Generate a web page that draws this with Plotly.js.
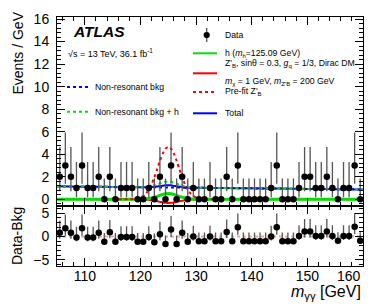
<!DOCTYPE html>
<html><head><meta charset="utf-8">
<script src="https://cdn.plot.ly/plotly-3.0.1.min.js"></script>
<style>html,body{margin:0;padding:0;background:#fff}#c{width:374px;height:307px}</style>
</head><body><div id="c"></div>
<script>
// ---- data: 1 GeV bins of m_gammagamma ----
const mgg = [105.5,106.5,107.5,108.5,109.5,110.5,111.5,112.5,113.5,114.5,
             115.5,116.5,117.5,118.5,119.5,120.5,121.5,122.5,123.5,124.5,
             125.5,126.5,127.5,128.5,129.5,130.5,131.5,132.5,133.5,134.5,
             135.5,136.5,137.5,138.5,139.5,140.5,141.5,142.5,143.5,144.5,
             145.5,146.5,147.5,148.5,149.5,150.5,151.5,152.5,153.5,154.5,
             155.5,156.5,157.5,158.5,159.5];
const counts = [2,3,2,1,3,1,1,2,0,2,
                0,1,1,1,0,0,1,0,2,0,
                3,0,2,0,1,0,0,1,0,0,
                2,0,3,0,0,0,0,0,1,3,
                0,0,0,1,2,2,1,1,2,1,
                0,1,1,3,0];
const resid = [0.8,1.8,0.8,-0.2,1.8,-0.2,-0.2,0.8,-1.1,0.9,
               -1.1,-0.1,-0.1,-0.1,-1.1,-1.1,-0.1,-1.2,0.5,-1.6,
               1.5,-1.6,0.8,-1.1,0.0,-1.0,-1.0,0.0,-1.0,-1.0,
               1.0,-1.0,2.0,-1.0,-1.0,-1.0,-1.0,-1.0,0.0,2.0,
               -1.0,-1.0,-1.0,0.1,1.1,1.1,0.1,0.1,1.1,0.1,
               -0.9,0.1,0.1,2.1,-0.9];
// Poisson (Garwood) interval half-widths indexed by count
const errUpByN   = [1.84, 2.30, 2.64, 2.92];
const errDownByN = [0.00, 0.83, 1.29, 1.63];

// ---- x tick labels ----
const xTickVals = [110,120,130,140,150,160];
const xTickText = ['110','120','130','140','150',''];
const lastTickLabel = '160';

// ---- fitted curves, sampled ----
const cx     = [105,110,115,118,119,120,121,122,122.5,123,123.5,124,124.5,125,125.5,126,126.5,127,127.5,128,129,130,131,132,135,140,145,150,155,160];
const bkg    = [1.15,1.12,1.10,1.08,1.08,1.07,1.07,1.06,1.06,1.06,1.06,1.05,1.05,1.05,1.05,1.04,1.04,1.04,1.04,1.03,1.03,1.02,1.02,1.01,1.00,0.97,0.95,0.92,0.90,0.87];
const bkgH   = [1.15,1.12,1.10,1.08,1.08,1.08,1.10,1.17,1.24,1.32,1.41,1.48,1.55,1.57,1.55,1.47,1.39,1.30,1.22,1.14,1.06,1.03,1.02,1.01,1.00,0.97,0.95,0.92,0.90,0.87];
const higgs  = [0,0,0,0,0,0.01,0.03,0.11,0.18,0.26,0.35,0.43,0.50,0.52,0.50,0.43,0.35,0.26,0.18,0.11,0.03,0.01,0,0,0,0,0,0,0,0];
const zfit   = [0,0,0,0,0,-0.01,-0.03,-0.09,-0.13,-0.18,-0.23,-0.28,-0.31,-0.32,-0.31,-0.28,-0.23,-0.18,-0.13,-0.09,-0.03,-0.01,0,0,0,0,0,0,0,0];
const total  = [1.15,1.12,1.10,1.08,1.08,1.07,1.07,1.08,1.11,1.14,1.18,1.20,1.24,1.25,1.24,1.19,1.16,1.12,1.09,1.05,1.03,1.02,1.02,1.01,1.00,0.97,0.95,0.92,0.90,0.87];
const prefitX = [116,118,119,120,121,122,122.5,123,123.5,124,124.5,125,125.5,126,126.5,127,127.5,128,129,130,131,132,134];
const prefit  = [0,0,0.03,0.15,0.51,1.34,1.96,2.67,3.41,4.05,4.49,4.65,4.49,4.05,3.41,2.67,1.96,1.34,0.51,0.15,0.03,0,0];
const zeroX = [105,160];
const zeroY = [0,0];

const eUp = counts.map(n => errUpByN[n]);
const eDn = counts.map(n => errDownByN[n]);

const FONT = 'Liberation Sans, Arial, sans-serif';
const GREEN = '#00e000', RED = '#ff0000', BLUE = '#0000ff';

function mkLine(x, y, color, dash, width, ax) {
  return {x:x, y:y, type:'scatter', mode:'lines', xaxis:ax[0], yaxis:ax[1],
          line:{color:color, dash:dash, width:width, shape:'spline', smoothing:0.8},
          hoverinfo:'skip', showlegend:false};
}
const axTop = ['x','y'], axBot = ['x2','y2'];
const traces = [
  mkLine(cx, zfit, RED, 'solid', 2, axTop),
  mkLine(cx, higgs, GREEN, 'solid', 3, axTop),
  mkLine(prefitX, prefit, RED, 'dot', 2, axTop),
  mkLine(cx, total, BLUE, 'solid', 2, axTop),
  mkLine(cx, bkg, BLUE, 'dot', 2, axTop),
  mkLine(cx, bkgH, GREEN, 'dot', 2, axTop),
  {x:mgg, y:counts, type:'scatter', mode:'markers', xaxis:'x', yaxis:'y',
   marker:{color:'#000', size:6.5},
   error_y:{type:'data', symmetric:false, array:eUp, arrayminus:eDn, width:0, thickness:1.3, color:'#555'},
   showlegend:false, hoverinfo:'skip'},
  mkLine(zeroX, zeroY, 'rgba(255,80,80,0.55)', 'dot', 2, axBot),
  {x:mgg, y:resid, type:'scatter', mode:'markers', xaxis:'x2', yaxis:'y2',
   marker:{color:'#000', size:6.5},
   error_y:{type:'data', symmetric:false, array:eUp, arrayminus:eDn, width:0, thickness:1.3, color:'#555'},
   showlegend:false, hoverinfo:'skip'}
];

// ---- layout helpers (pixel -> paper) ----
const PL = 57, PR = 363, PT = 17, PB = 266;
const px = p => (p - PL) / (PR - PL);
const py = p => (PB - p) / (PB - PT);
const split = (PB - 205.7) / (PB - PT);

function txt(x, y, text, size, opts) {
  return Object.assign({xref:'paper', yref:'paper', x:px(x), y:py(y), text:text,
    showarrow:false, xanchor:'left', yanchor:'middle',
    font:{family:FONT, size:size, color:'#000'}}, opts || {});
}
function seg(x0, x1, y, color, dash, width) {
  return {type:'line', xref:'paper', yref:'paper', x0:px(x0), x1:px(x1), y0:py(y), y1:py(y),
          line:{color:color, dash:dash, width:width}};
}

const axCommon = {showline:true, linecolor:'#000', linewidth:1, mirror:'ticks',
  ticks:'inside', tickcolor:'#000', zeroline:false, showgrid:false,
  tickfont:{family:FONT, size:14, color:'#000'}};

const layout = {
  width:374, height:307,
  margin:{l:PL, r:374-PR, t:PT, b:307-PB, pad:0},
  paper_bgcolor:'#fff', plot_bgcolor:'#fff',
  font:{family:FONT, color:'#000'},
  showlegend:false,
  xaxis: Object.assign({}, axCommon, {domain:[0,1], range:[105,160], anchor:'y',
    dtick:10, ticklen:8, showticklabels:false,
    minor:{ticks:'inside', ticklen:4, dtick:2, tickcolor:'#000'}}),
  yaxis: Object.assign({}, axCommon, {domain:[split,1], range:[-0.57,16.18], anchor:'x',
    tick0:0, dtick:2, ticklen:8, ticklabelstandoff:4,
    minor:{ticks:'inside', ticklen:4, dtick:0.4, tickcolor:'#000'}}),
  xaxis2: Object.assign({}, axCommon, {domain:[0,1], range:[105,160], anchor:'y2',
    tickmode:'array', tickvals:xTickVals, ticktext:xTickText, ticklen:8, ticklabelstandoff:-3,
    minor:{ticks:'inside', ticklen:4, tickmode:'linear', tick0:0, dtick:2, tickcolor:'#000'}}),
  yaxis2: Object.assign({}, axCommon, {domain:[0,split], range:[-6.3,6.6], anchor:'x2',
    tick0:0, dtick:5, ticklen:8, ticklabelstandoff:4,
    minor:{ticks:'inside', ticklen:4, dtick:1, tickcolor:'#000'}}),
  annotations:[
    txt(71, 32, '<b><i>ATLAS</i></b>', 15.5),
    txt(66, 52.5, '√s = 13 TeV, 36.1 fb<sup>-1</sup>', 9),
    txt(93, 87, 'Non-resonant bkg', 8.7),
    txt(93, 111.7, 'Non-resonant bkg + h', 8.7),
    txt(222.5, 35, 'Data', 8.7),
    txt(222.5, 53.3, 'h (<i>m</i><sub>h</sub>=125.09 GeV)', 8.7),
    txt(222.5, 63.5, "Z'<sub>B</sub>, sinθ = 0.3, <i>g</i><sub>q</sub> = 1/3, Dirac DM", 8.7),
    txt(222.5, 81, "<i>m</i><sub>χ</sub> = 1 GeV, <i>m</i><sub>Z'B</sub> = 200 GeV", 8.7),
    txt(222.5, 92, "Pre-fit Z'<sub>B</sub>", 8.7),
    txt(222.5, 113.3, 'Total', 8.7),
    txt(17, 10, 'Events / GeV', 14, {textangle:-90, xanchor:'center', yanchor:'top'}),
    txt(17, 236, 'Data-Bkg', 14, {textangle:-90, xanchor:'center', yanchor:'middle'}),
    txt(363, 275.5, lastTickLabel, 14, {xanchor:'right'}),
    txt(363, 292, '<i>m</i><sub>γγ</sub> [GeV]', 16, {xanchor:'right'})
  ],
  shapes:[
    seg(67, 90, 87, BLUE, 'dot', 2),
    seg(67, 90, 111.7, GREEN, 'dot', 2),
    seg(193, 217, 53.3, GREEN, 'solid', 2),
    seg(193, 217, 73.3, RED, 'solid', 2),
    seg(193, 217, 92, RED, 'dot', 2),
    seg(193, 217, 113.3, BLUE, 'solid', 2),
    {type:'line', xref:'paper', yref:'paper', x0:px(206.7), x1:px(206.7), y0:py(28), y1:py(42),
     line:{color:'#555', width:1.3}},
    {type:'circle', xref:'paper', yref:'paper', x0:px(203.6), x1:px(209.8), y0:py(31.9), y1:py(38.1),
     fillcolor:'#000', line:{color:'#000', width:0}}
  ]
};
Plotly.newPlot('c', traces, layout, {staticPlot:true, displayModeBar:false});
</script>
</body></html>
